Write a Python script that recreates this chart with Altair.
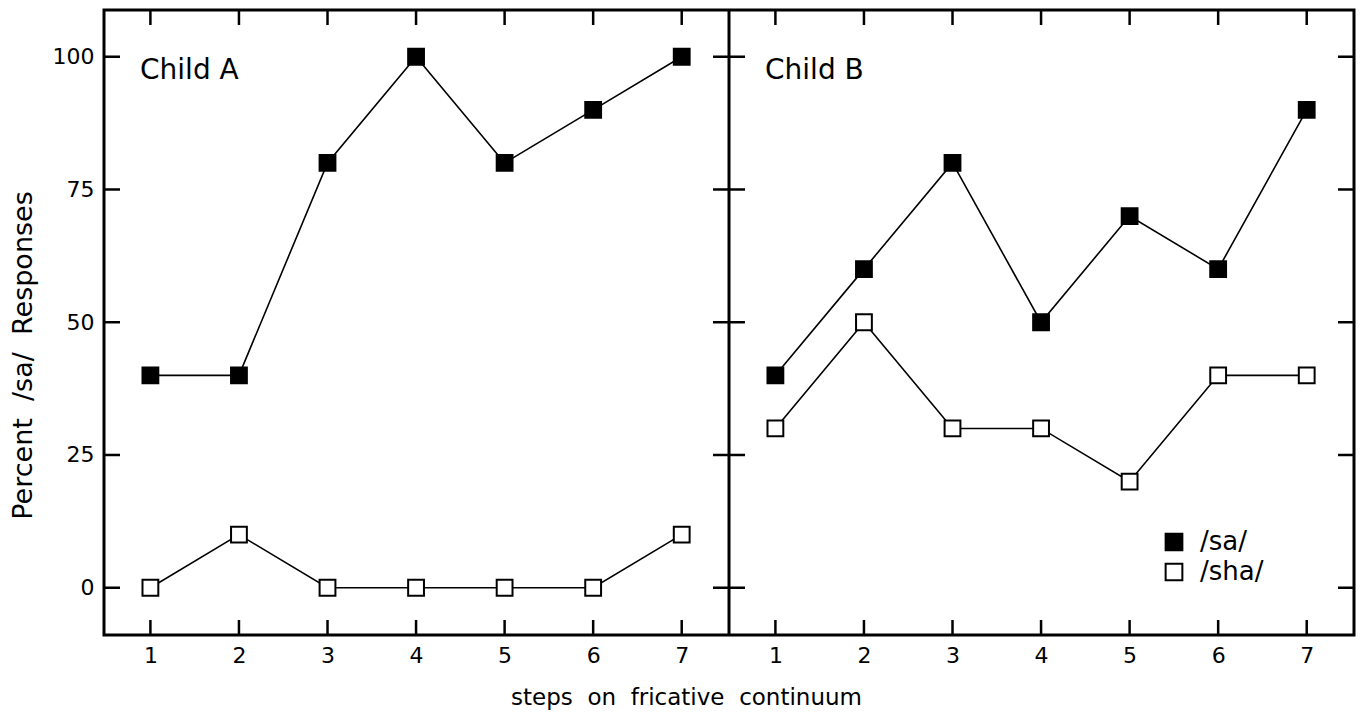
import altair as alt
import pandas as pd

# ---- data -------------------------------------------------------------
steps = [1, 2, 3, 4, 5, 6, 7]
children = ["Child A", "Child B"]
series_names = ["/sa/", "/sha/"]

sa_child_a = [40, 40, 80, 100, 80, 90, 100]
sha_child_a = [0, 10, 0, 0, 0, 0, 10]
sa_child_b = [40, 60, 80, 50, 70, 60, 90]
sha_child_b = [30, 50, 30, 30, 20, 40, 40]

y_ticks = [0, 25, 50, 75, 100]

# wide word gaps are kept with no-break spaces (SVG collapses plain runs)
GAP = "\u00a0\u00a0"
X_TITLE = GAP.join(["steps", "on", "fricative", "continuum"])
Y_TITLE = GAP.join(["Percent", "/sa/", "Responses"])

# ---- layout of the two side-by-side panels on one shared x scale -------
W, H = 1250, 625
PANEL_SHIFT = 7.058            # second panel starts this many step units later
X_MIN = 0.476
X_MAX = X_MIN + 2 * PANEL_SHIFT
DIVIDER = X_MIN + PANEL_SHIFT
LABEL_ANCHOR = 0.883           # left edge of the "Child" captions, in step units
FONT = "DejaVu Sans"

offsets = {"Child A": 0.0, "Child B": PANEL_SHIFT}
series_values = {
    ("Child A", "/sa/"): sa_child_a,
    ("Child A", "/sha/"): sha_child_a,
    ("Child B", "/sa/"): sa_child_b,
    ("Child B", "/sha/"): sha_child_b,
}

rows = []
for (child, series), values in series_values.items():
    for s, v in zip(steps, values):
        rows.append({"child": child, "series": series, "step": s,
                     "pos": s + offsets[child], "pct": v,
                     "key": child + series})
df = pd.DataFrame(rows)

x_positions = [s + offsets[c] for c in children for s in steps]
xtick_df = pd.DataFrame({"pos": x_positions})
ytick_df = pd.DataFrame({"pct": y_ticks})
caption_df = pd.DataFrame({"child": children,
                           "pos": [LABEL_ANCHOR + offsets[c] for c in children]})

xscale = alt.Scale(domain=[X_MIN, X_MAX], nice=False, zero=False)
yscale = alt.Scale(domain=[-8.9, 108.8], nice=False, zero=False)

x_axis = alt.Axis(
    values=x_positions,
    labelExpr=f"datum.value > {DIVIDER} ? round(datum.value - {PANEL_SHIFT}) : round(datum.value)",
    ticks=False, domain=False, grid=False,
    labelFont=FONT, labelFontSize=22, labelColor="black", labelPadding=10,
    titleFont=FONT, titleFontSize=23, titleX=582,
    titleFontWeight="normal", titleColor="black", titlePadding=20,
)
y_axis = alt.Axis(
    values=y_ticks, ticks=False, domain=False, grid=False,
    labelFont=FONT, labelFontSize=22, labelColor="black", labelPadding=10,
    titleFont=FONT, titleFontSize=27, titleY=345,
    titleFontWeight="normal", titleColor="black", titlePadding=15,
)


def X(field):
    return alt.X(field, scale=xscale, axis=x_axis, title=X_TITLE)


def Y(field):
    return alt.Y(field, scale=yscale, axis=y_axis, title=Y_TITLE)


# ---- series -----------------------------------------------------------
lines = alt.Chart(df).mark_line(color="black", strokeWidth=1.6).encode(
    x=X("pos:Q"), y=Y("pct:Q"), detail="key:N",
)

points = alt.Chart(df).mark_point(
    shape="square", filled=True, size=250, stroke="black", strokeWidth=2, opacity=1
).encode(
    x=X("pos:Q"),
    y=Y("pct:Q"),
    fill=alt.Fill(
        "series:N",
        scale=alt.Scale(domain=series_names, range=["black", "white"]),
        legend=alt.Legend(
            orient="none", legendX=1057, legendY=519, title=None,
            symbolType="square", symbolSize=280, symbolStrokeColor="black",
            symbolStrokeWidth=2, symbolOpacity=1,
            labelFont=FONT, labelFontSize=26, labelColor="black",
            labelOffset=13, rowPadding=4, padding=0,
        ),
    ),
)

# ---- frame details: divider and inward tick marks ----------------------
divider = alt.Chart(pd.DataFrame({"pos": [DIVIDER]})).mark_rule(
    color="black", strokeWidth=3
).encode(x=X("pos:Q"))

tick_style = dict(color="black", thickness=2.5, opacity=1)

left_ticks = alt.Chart(ytick_df).mark_tick(orient="horizontal", size=16, **tick_style).encode(
    y=Y("pct:Q"), x=alt.value(8))
right_ticks = alt.Chart(ytick_df).mark_tick(orient="horizontal", size=16, **tick_style).encode(
    y=Y("pct:Q"), x=alt.value(W - 8))
mid_ticks = alt.Chart(ytick_df).transform_calculate(pos=f"{DIVIDER}").mark_tick(
    orient="horizontal", size=32, **tick_style).encode(
    y=Y("pct:Q"), x=X("pos:Q"))
top_ticks = alt.Chart(xtick_df).mark_tick(orient="vertical", size=15, **tick_style).encode(
    x=X("pos:Q"), y=alt.value(7.5))
bottom_ticks = alt.Chart(xtick_df).mark_tick(orient="vertical", size=15, **tick_style).encode(
    x=X("pos:Q"), y=alt.value(H - 7.5))

captions = alt.Chart(caption_df).mark_text(
    align="left", baseline="alphabetic", font=FONT, fontSize=28, color="black"
).encode(
    x=X("pos:Q"),
    y=alt.value(69),
    text="child:N",
)

chart = alt.layer(
    divider, left_ticks, right_ticks, mid_ticks, top_ticks, bottom_ticks,
    lines, points, captions,
).properties(
    width=W, height=H,
    autosize=alt.AutoSizeParams(type="none"),
    padding={"left": 104, "top": 10, "right": 7, "bottom": 80},
    background="white",
).configure_view(stroke="black", strokeWidth=3)

chart.save("out.html", embed_options={"renderer": "svg", "actions": False})
